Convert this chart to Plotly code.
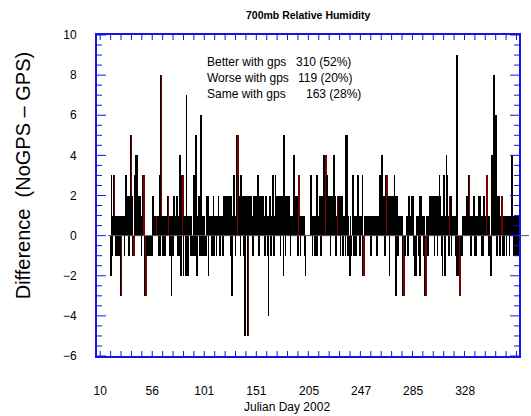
import plotly.graph_objects as go

# Difference (NoGPS - GPS), one value per forecast, in plotted order
values = [
    0, 0, 0, 0, 0, 0, 0, 0, 0, 0,
    0, 0, 0, 0, 0, 0, 0, 0, 0, -2,
    3, -1, 1, 3, 3, 1, -1, 1, 1, -1,
    1, -1, 1, -3, -3, 1, 0, 1, -1, 1,
    3, 1, 2, 2, -1, 2, 2, 5, 5, 2,
    -1, -1, 3, 2, 4, 4, 4, 2, 2, 2,
    2, 1, -1, 1, 3, 3, -1, -3, -3, -1,
    -1, -1, 0, -1, -1, -1, 0, -1, 2, 0,
    0, 1, 1, 1, 1, 1, -1, 3, -1, 8,
    8, 1, -1, 1, 1, -1, 1, 1, 1, 2,
    2, 1, -1, 1, -3, 1, -1, 2, 2, 1,
    1, 2, 2, -1, 1, -1, 4, -2, 1, 3,
    3, -2, 1, 1, -2, 7, 1, -2, 1, 1,
    1, -1, 1, 0, -1, 1, 3, -1, 5, -1,
    -2, 1, 1, 2, -1, 6, 1, -1, 1, -1,
    1, -1, 0, -1, 2, 2, -2, 1, 1, 1,
    1, -1, 1, 2, -1, 1, 1, -1, 1, 1,
    2, 1, -1, 1, 0, 1, -1, 2, 2, 0,
    2, 2, 1, 2, 0, 2, 2, -1, 2, -3,
    1, 3, 3, 1, -1, 2, 5, 5, 3, 2,
    2, -1, 3, 2, 2, -1, 2, -5, -1, 2,
    2, -5, -5, 2, 2, 1, 2, 1, -1, 2,
    2, 1, 2, 1, 2, 3, 2, -1, 2, 2,
    2, 1, 2, 2, 1, -1, 2, 2, 1, -1,
    -4, 1, 2, 1, -1, 1, 3, 1, -1, 1,
    3, 1, 2, 2, 1, 2, 2, -1, 2, 1,
    2, -2, 5, 1, -1, 2, 2, 1, 0, 2,
    1, -1, 0, 1, 1, 2, 4, 2, 2, 1,
    2, -1, 3, 3, 1, -1, 1, 1, 0, 1,
    1, -1, -2, 0, 0, 0, 0, 0, 0, 0,
    3, 0, -1, 1, 1, -1, 1, -1, 3, -1,
    1, 1, 2, 2, -1, 2, 2, 1, 4, 2,
    4, 4, 3, 2, 2, 1, 2, -1, 2, 1,
    2, 1, 4, 2, 1, -1, 1, 2, 2, 2,
    1, -1, 2, 2, 1, -1, 1, 1, -1, 5,
    5, -1, 1, -1, -2, 1, -1, 0, 1, 3,
    -1, 1, 0, -1, 1, 1, 3, 1, -1, 1,
    0, 1, 3, -2, -2, 1, 1, 0, 1, 1,
    1, 0, 1, 1, -1, 1, 1, 0, 1, 1,
    1, 1, -1, -1, 1, 1, 3, 3, 1, 4,
    4, 2, 2, 2, -1, 3, 3, 2, 2, 1,
    -2, 2, 2, 2, 2, 1, 2, 3, 2, -3,
    2, -1, -1, 1, 1, 1, 1, 0, 1, -3,
    -3, -1, -1, 0, 1, 1, -1, 2, 2, 1,
    1, 2, 2, 2, -1, -2, -2, -2, 1, 1,
    1, -1, 2, -2, 2, 1, 1, 1, -1, 1,
    -3, -3, 1, 1, -1, 1, 2, 2, 2, 1,
    2, 2, 2, -1, 1, 2, 2, -1, 2, 2,
    3, 2, 1, -1, -2, 1, 3, 3, -2, 1,
    4, 3, 1, -1, 2, 2, 2, -1, 1, 1,
    1, 1, 1, -1, -2, 9, -2, -2, -3, -3,
    -1, -1, -1, 1, 1, 1, 1, 1, 2, 1,
    2, 3, 3, 1, -1, 1, 1, 1, 2, 2,
    -1, 1, -1, 1, 1, 2, 2, 2, 1, -1,
    1, -1, 2, 2, 1, 1, 3, 3, 1, -1,
    1, -1, -2, 4, 4, 1, 8, 1, 1, 6,
    1, -1, 2, 2, 1, -1, 1, 2, 2, -1,
    1, -1, 1, 1, -1, 1, 1, 1, -1, 1,
    1, 4, 4, 1, -1, 1, 1, -1, 1, -1,
    1, -1,
]

# forecasts drawn in dark red
red_bars = [24, 34, 48, 51, 65, 68, 84, 90, 100, 120, 197, 212, 283, 321,
            338, 374, 406, 430, 442, 461, 495, 509, 522, 547, 568]

# x tick labels: Julian day at selected forecast indices
tick_idx = [4, 77, 150, 223, 297, 370, 443, 516]
tick_days = ["10", "56", "101", "151", "205", "247", "285", "328"]

summary_labels = ["Better with gps", "Worse with gps", "Same with gps"]
summary_counts = ["310 (52%)", "119 (20%)", "163 (28%)"]

BLUE = "#1414e6"
FONT = "Liberation Sans, Arial, sans-serif"
Y_MIN, Y_MAX = -6, 10

# plot area geometry (pixels)
L, R, T, B = 97, 10, 35, 60
W, H = 531, 416
PW, PH = W - L - R, H - T - B

xs = list(range(len(values)))
red_set = set(red_bars)
colors = ["#7a0000" if i in red_set else "#000000" for i in xs]

fig = go.Figure()
fig.add_trace(go.Bar(
    x=xs, y=values,
    marker=dict(color=colors, line=dict(width=0)),
    width=1.0,
    showlegend=False,
))

shapes = []
# zero line (extends past the right frame as in the original)
shapes.append(dict(type="line", xref="paper", yref="y",
                   x0=11 / PW, x1=(W - L) / PW, y0=0, y1=0,
                   line=dict(color="#555555", width=1), layer="above"))

# inward ticks on left and right frame: major every 2, minor every 0.5
n_y = int((Y_MAX - Y_MIN) / 0.5)
for k in range(n_y + 1):
    yv = Y_MIN + 0.5 * k
    ln = 9 if (yv % 2 == 0) else 5
    for x0, x1 in ((0, ln / PW), (1, 1 - ln / PW)):
        shapes.append(dict(type="line", xref="paper", yref="y",
                           x0=x0, x1=x1, y0=yv, y1=yv,
                           line=dict(color=BLUE, width=1), layer="above"))

# inward ticks on top and bottom frame
step = (tick_idx[1] - tick_idx[0]) / 5
xv = float(tick_idx[0])
while xv <= len(values) - 0.5:
    for y0, y1 in ((0, 5 / PH), (1, 1 - 5 / PH)):
        shapes.append(dict(type="line", xref="x", yref="paper",
                           x0=xv, x1=xv, y0=y0, y1=y1,
                           line=dict(color=BLUE, width=1), layer="above"))
    xv += step

fig.update_layout(
    width=W, height=H,
    margin=dict(l=L, r=R, t=T, b=B),
    paper_bgcolor="white", plot_bgcolor="white",
    bargap=0,
    font=dict(family=FONT, size=12, color="black"),
    showlegend=False,
    shapes=shapes,
)

fig.update_xaxes(
    range=[-0.5, len(values) - 0.5],
    tickmode="array", tickvals=tick_idx, ticktext=tick_days,
    ticks="",
    showline=True, linecolor=BLUE, linewidth=2, mirror=True,
    showgrid=False, zeroline=False,
    tickfont=dict(size=12, family=FONT),
    ticklabelstandoff=23,
)

fig.update_yaxes(
    range=[Y_MIN, Y_MAX],
    tickmode="array", tickvals=list(range(Y_MIN, Y_MAX + 1, 2)),
    ticks="",
    showline=True, linecolor=BLUE, linewidth=2, mirror=True,
    showgrid=False, zeroline=False,
    tickfont=dict(size=12, family=FONT),
    ticklabelstandoff=16,
)

annotations = [
    dict(text="<b>700mb Relative Humidity</b>", xref="paper", yref="paper",
         x=0.5, y=1.062, xanchor="center", yanchor="middle", showarrow=False,
         font=dict(size=10.5, family=FONT)),
    dict(text="Julian Day 2002", xref="paper", yref="paper",
         x=0.45, y=-0.159, xanchor="center", yanchor="middle", showarrow=False,
         font=dict(size=12, family=FONT)),
    dict(text="Difference  (NoGPS \u2013 GPS)", xref="paper", yref="paper",
         x=-0.1745, y=0.564, xanchor="center", yanchor="middle", showarrow=False,
         textangle=-90, font=dict(size=20, family=FONT)),
]
label_y = [0.916, 0.866, 0.816]
count_x = [0.467, 0.472, 0.491]
for lab, cnt, yy, cx in zip(summary_labels, summary_counts, label_y, count_x):
    annotations.append(dict(text=lab, xref="paper", yref="paper", x=0.257, y=yy,
                            xanchor="left", yanchor="middle", showarrow=False,
                            font=dict(size=12, family=FONT)))
    annotations.append(dict(text=cnt, xref="paper", yref="paper", x=cx, y=yy,
                            xanchor="left", yanchor="middle", showarrow=False,
                            font=dict(size=12, family=FONT)))
fig.update_layout(annotations=annotations)

fig.write_html("out.html")
